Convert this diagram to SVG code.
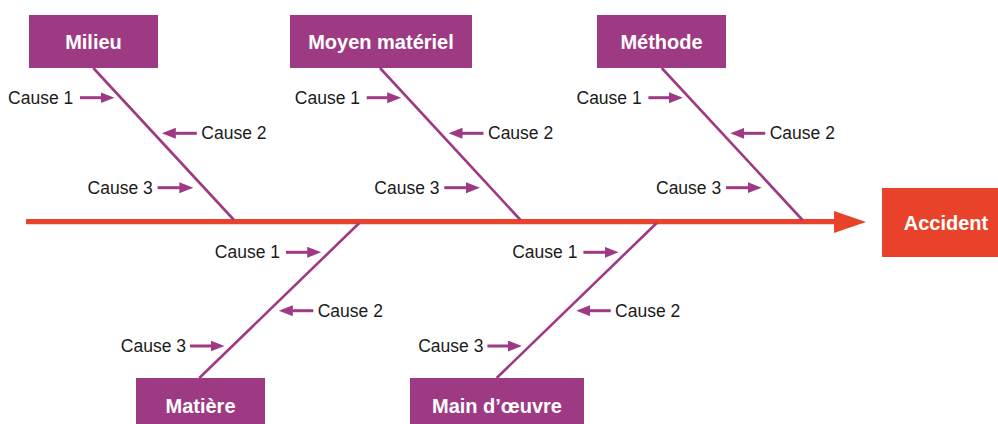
<svg xmlns="http://www.w3.org/2000/svg" width="998" height="424" viewBox="0 0 998 424">
<style>
.box{fill:#9E3A83}
.acc{fill:#E8432A}
.lbl{font-family:"Liberation Sans",Arial,sans-serif;font-weight:bold;font-size:20px;fill:#fff;text-anchor:middle}
.c{font-family:"Liberation Sans",Arial,sans-serif;font-size:17.5px;fill:#1a1a1a}
.e{text-anchor:end}
.bone{stroke:#9E3A83;stroke-width:2.6;fill:none}
.arr{stroke:#9E3A83;stroke-width:3;fill:none;marker-end:url(#ah)}
</style>
<defs>
<marker id="ah" markerUnits="userSpaceOnUse" markerWidth="15" markerHeight="12" refX="0.5" refY="5.5" orient="auto">
<path d="M0,0 L14,5.5 L0,11 z" fill="#9E3A83"/>
</marker>
</defs>
<g id="connectors">
<line x1="26" y1="221.7" x2="836" y2="221.7" stroke="#E8432A" stroke-width="5.3"/>
<path d="M834,211 L866,222 L834,233 z" fill="#E8432A"/>
<line class="bone" x1="93.3" y1="68" x2="234" y2="220"/>
<line class="bone" x1="380" y1="68" x2="520.5" y2="220"/>
<line class="bone" x1="661.7" y1="68" x2="802.5" y2="220"/>
<line class="bone" x1="359.3" y1="223" x2="199.3" y2="378"/>
<line class="bone" x1="656.7" y1="223" x2="496.7" y2="378"/>
</g>
<g id="milieu">
<rect class="box" x="29" y="15" width="129" height="53"/>
<text class="lbl" x="93.5" y="49">Milieu</text>
<line class="arr" x1="80" y1="97.7" x2="101" y2="97.7"/>
<text class="c e" x="73.3" y="103.5">Cause 1</text>
<line class="arr" x1="196.8" y1="133.3" x2="175.3" y2="133.3"/>
<text class="c" x="201.3" y="139.3">Cause 2</text>
<line class="arr" x1="157.6" y1="187.7" x2="179.8" y2="187.7"/>
<text class="c e" x="152.8" y="193.5">Cause 3</text>
</g>
<g id="moyen-materiel">
<rect class="box" x="290" y="15" width="182" height="53"/>
<text class="lbl" x="381" y="49">Moyen matériel</text>
<line class="arr" x1="366.7" y1="97.7" x2="387.7" y2="97.7"/>
<text class="c e" x="360" y="103.5">Cause 1</text>
<line class="arr" x1="483.5" y1="133.3" x2="462" y2="133.3"/>
<text class="c" x="488" y="139.3">Cause 2</text>
<line class="arr" x1="444.3" y1="187.7" x2="466.5" y2="187.7"/>
<text class="c e" x="439.5" y="193.5">Cause 3</text>
</g>
<g id="methode">
<rect class="box" x="597" y="15" width="129" height="53"/>
<text class="lbl" x="661.5" y="49">Méthode</text>
<line class="arr" x1="648.4" y1="97.7" x2="669.4" y2="97.7"/>
<text class="c e" x="641.7" y="103.5">Cause 1</text>
<line class="arr" x1="765.2" y1="133.3" x2="743.7" y2="133.3"/>
<text class="c" x="769.7" y="139.3">Cause 2</text>
<line class="arr" x1="726" y1="187.7" x2="748.2" y2="187.7"/>
<text class="c e" x="721.2" y="193.5">Cause 3</text>
</g>
<g id="matiere">
<rect class="box" x="136" y="378" width="129" height="53"/>
<text class="lbl" x="200.5" y="412.5">Matière</text>
<line class="arr" x1="286" y1="252.3" x2="307.7" y2="252.3"/>
<text class="c e" x="280" y="258.2">Cause 1</text>
<line class="arr" x1="313.3" y1="310.7" x2="292.3" y2="310.7"/>
<text class="c" x="317.7" y="316.6">Cause 2</text>
<line class="arr" x1="190" y1="346" x2="211" y2="346"/>
<text class="c e" x="186" y="351.8">Cause 3</text>
</g>
<g id="main-d-oeuvre">
<rect class="box" x="410" y="378" width="174" height="53"/>
<text class="lbl" x="497" y="412.5">Main d’œuvre</text>
<line class="arr" x1="583.4" y1="252.3" x2="605.1" y2="252.3"/>
<text class="c e" x="577.4" y="258.2">Cause 1</text>
<line class="arr" x1="610.7" y1="310.7" x2="589.7" y2="310.7"/>
<text class="c" x="615.1" y="316.6">Cause 2</text>
<line class="arr" x1="487.4" y1="346" x2="508.4" y2="346"/>
<text class="c e" x="483.4" y="351.8">Cause 3</text>
</g>
<g id="accident">
<rect class="acc" x="882" y="188" width="116" height="69"/>
<text class="lbl" x="946" y="229.5">Accident</text>
</g>
</svg>
